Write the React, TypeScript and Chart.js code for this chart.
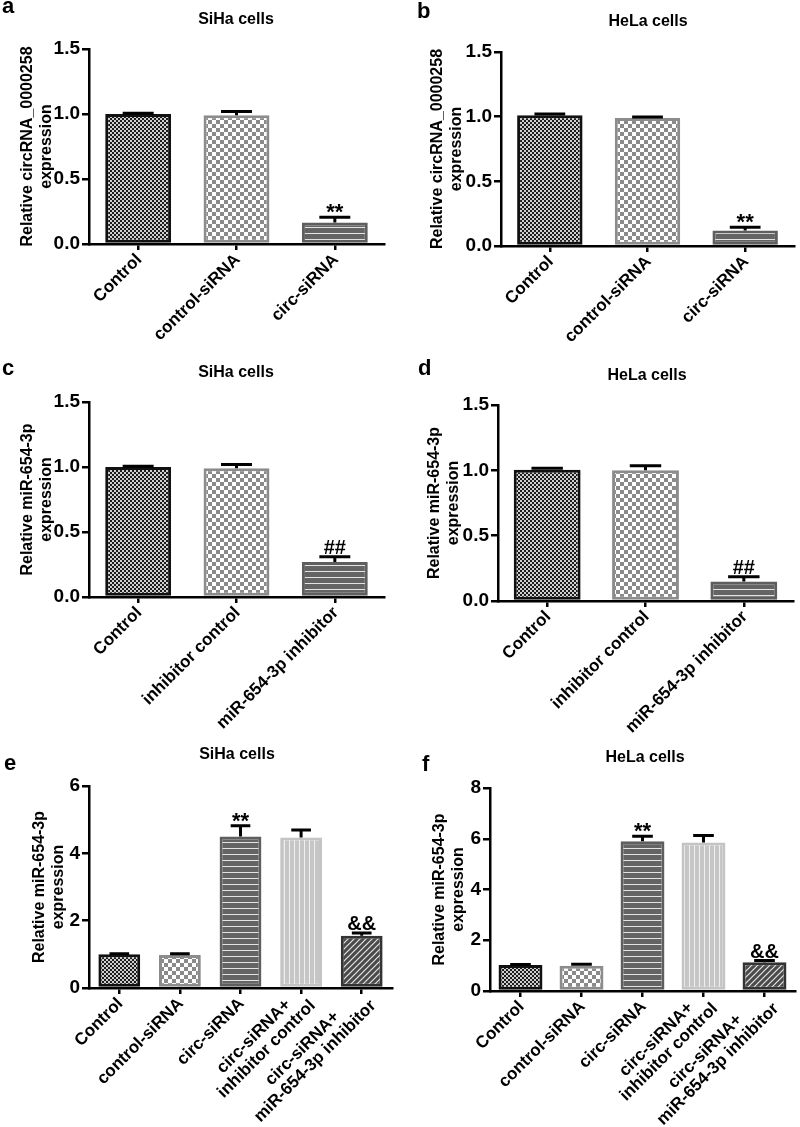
import React, { useEffect, useRef } from "react";
import { Chart, registerables } from "chart.js";
Chart.register(...registerables);

const FONT = '"Liberation Sans", Arial, Helvetica, sans-serif';

// ---------- data ----------
const labelsA = ["Control", "control-siRNA", "circ-siRNA"];
const valuesA = [1.0, 0.99, 0.165];
const errorsA = [0.006, 0.03, 0.04];
const marksA = ["", "", "**"];

const labelsB = ["Control", "control-siRNA", "circ-siRNA"];
const valuesB = [1.01, 0.99, 0.12];
const errorsB = [0.01, 0.008, 0.025];
const marksB = ["", "", "**"];

const labelsC = ["Control", "inhibitor control", "miR-654-3p inhibitor"];
const valuesC = [1.0, 0.99, 0.27];
const errorsC = [0.006, 0.03, 0.04];
const marksC = ["", "", "##"];

const labelsD = ["Control", "inhibitor control", "miR-654-3p inhibitor"];
const valuesD = [1.005, 1.0, 0.15];
const errorsD = [0.01, 0.035, 0.035];
const marksD = ["", "", "##"];

const labelsE = ["Control", "control-siRNA", "circ-siRNA", ["circ-siRNA+", "inhibitor control"], ["circ-siRNA+", "miR-654-3p inhibitor"]];
const valuesE = [1.0, 0.98, 4.5, 4.47, 1.55];
const errorsE = [0.02, 0.04, 0.32, 0.22, 0.08];
const marksE = ["", "", "**", "", "&&"];

const labelsF = ["Control", "control-siRNA", "circ-siRNA", ["circ-siRNA+", "inhibitor control"], ["circ-siRNA+", "miR-654-3p inhibitor"]];
const valuesF = [1.02, 1.0, 5.9, 5.85, 1.13];
const errorsF = [0.02, 0.05, 0.2, 0.28, 0.07];
const marksF = ["", "", "**", "", "&&"];

const yTitleCirc = ["Relative circRNA_0000258", "expression"];
const yTitleMir = ["Relative miR-654-3p", "expression"];

// ---------- styles ----------
const fills3 = ["fine", "coarse", "hstripe"];
const borders3 = ["#111111", "#8c8c8c", "#5e5e5e"];
const fills5 = ["fine", "coarse", "hstripe", "vstripe", "diag"];
const borders5 = ["#111111", "#8c8c8c", "#5e5e5e", "#c4c4c4", "#333333"];

function makePattern(kind: string): any {
  const c = document.createElement("canvas");
  const g = c.getContext("2d")!;
  if (kind === "fine") {
    c.width = 4; c.height = 4;
    g.fillStyle = "#cfcfcf"; g.fillRect(0, 0, 4, 4);
    g.fillStyle = "#1c1c1c"; g.fillRect(0, 0, 2, 2); g.fillRect(2, 2, 2, 2);
  } else if (kind === "coarse") {
    c.width = 8; c.height = 8;
    g.fillStyle = "#ffffff"; g.fillRect(0, 0, 8, 8);
    g.fillStyle = "#8a8a8a"; g.fillRect(0, 0, 4, 4); g.fillRect(4, 4, 4, 4);
  } else if (kind === "hstripe") {
    c.width = 6; c.height = 6;
    g.fillStyle = "#646464"; g.fillRect(0, 0, 6, 6);
    g.fillStyle = "#e4e4e4"; g.fillRect(0, 5, 6, 1);
  } else if (kind === "vstripe") {
    c.width = 5; c.height = 5;
    g.fillStyle = "#c6c6c6"; g.fillRect(0, 0, 5, 5);
    g.fillStyle = "#f0f0f0"; g.fillRect(4, 0, 1, 5);
  } else {
    c.width = 6; c.height = 6;
    g.fillStyle = "#4a4a4a"; g.fillRect(0, 0, 6, 6);
    g.strokeStyle = "#e6e6e6"; g.lineWidth = 1.2;
    g.beginPath();
    g.moveTo(0, 6); g.lineTo(6, 0);
    g.moveTo(-1, 1); g.lineTo(1, -1);
    g.moveTo(5, 7); g.lineTo(7, 5);
    g.stroke();
  }
  return g.createPattern(c, "repeat");
}

type Panel = {
  key: string;
  left: number; top: number; width: number; height: number;
  area: { l: number; t: number; r: number; b: number };
  labels: any[]; values: number[]; errors: number[]; marks: string[];
  fills: string[]; borders: string[];
  yMax: number; yStep: number; yDec: number;
  yTitle: string[]; yTitlePad: number;
  title: string; titleX: number; titleY: number;
  letter: string; letterX: number; letterY: number;
  barFrac: number;
};

const panels: Panel[] = [
  {
    key: "a", left: 0, top: 0, width: 400, height: 360,
    area: { l: 89, t: 49, r: 384, b: 244 },
    labels: labelsA, values: valuesA, errors: errorsA, marks: marksA,
    fills: fills3, borders: borders3, yMax: 1.5, yStep: 0.5, yDec: 1,
    yTitle: yTitleCirc, yTitlePad: 18,
    title: "SiHa cells", titleX: 236, titleY: 20, letter: "a", letterX: 2, letterY: 13, barFrac: 0.67,
  },
  {
    key: "b", left: 400, top: 0, width: 400, height: 360,
    area: { l: 501, t: 52, r: 794, b: 246 },
    labels: labelsB, values: valuesB, errors: errorsB, marks: marksB,
    fills: fills3, borders: borders3, yMax: 1.5, yStep: 0.5, yDec: 1,
    yTitle: yTitleCirc, yTitlePad: 28,
    title: "HeLa cells", titleX: 648, titleY: 22, letter: "b", letterX: 417, letterY: 18, barFrac: 0.67,
  },
  {
    key: "c", left: 0, top: 350, width: 400, height: 390,
    area: { l: 89, t: 402, r: 384, b: 597 },
    labels: labelsC, values: valuesC, errors: errorsC, marks: marksC,
    fills: fills3, borders: borders3, yMax: 1.5, yStep: 0.5, yDec: 1,
    yTitle: yTitleMir, yTitlePad: 18,
    title: "SiHa cells", titleX: 236, titleY: 373, letter: "c", letterX: 2, letterY: 375, barFrac: 0.67,
  },
  {
    key: "d", left: 400, top: 350, width: 400, height: 390,
    area: { l: 498, t: 405, r: 793, b: 601 },
    labels: labelsD, values: valuesD, errors: errorsD, marks: marksD,
    fills: fills3, borders: borders3, yMax: 1.5, yStep: 0.5, yDec: 1,
    yTitle: yTitleMir, yTitlePad: 25,
    title: "HeLa cells", titleX: 647, titleY: 376, letter: "d", letterX: 418, letterY: 375, barFrac: 0.68,
  },
  {
    key: "e", left: 0, top: 735, width: 400, height: 392,
    area: { l: 89, t: 786, r: 392, b: 988 },
    labels: labelsE, values: valuesE, errors: errorsE, marks: marksE,
    fills: fills5, borders: borders5, yMax: 6, yStep: 2, yDec: 0,
    yTitle: yTitleMir, yTitlePad: 30,
    title: "SiHa cells", titleX: 237, titleY: 755, letter: "e", letterX: 4, letterY: 770, barFrac: 0.69,
  },
  {
    key: "f", left: 400, top: 735, width: 400, height: 392,
    area: { l: 490, t: 788, r: 795, b: 991 },
    labels: labelsF, values: valuesF, errors: errorsF, marks: marksF,
    fills: fills5, borders: borders5, yMax: 8, yStep: 2, yDec: 0,
    yTitle: yTitleMir, yTitlePad: 30,
    title: "HeLa cells", titleX: 645, titleY: 758, letter: "f", letterX: 422, letterY: 771, barFrac: 0.72,
  },
];

function overlayPlugin(p: Panel) {
  return {
    id: "overlay_" + p.key,
    afterDatasetsDraw(chart: any) {
      const ctx = chart.ctx;
      const meta = chart.getDatasetMeta(0);
      const yScale = chart.scales.y;
      ctx.save();
      meta.data.forEach((bar: any, i: number) => {
        const x = bar.x;
        const yTop = bar.y;
        const yErr = yScale.getPixelForValue(p.values[i] + p.errors[i]);
        const half = (bar.width * 0.47) / 2;
        ctx.strokeStyle = "#000";
        ctx.lineWidth = 3;
        ctx.beginPath();
        ctx.moveTo(x, yTop);
        ctx.lineTo(x, yErr);
        ctx.moveTo(x - half, yErr);
        ctx.lineTo(x + half, yErr);
        ctx.stroke();
        const m = p.marks[i];
        if (m) {
          ctx.fillStyle = "#000";
          ctx.textAlign = "center";
          ctx.textBaseline = "alphabetic";
          if (m === "**") {
            ctx.font = `bold 22px ${FONT}`;
            ctx.fillText(m, x, yErr + 2);
          } else {
            ctx.font = `bold 20px ${FONT}`;
            ctx.fillText(m, x, yErr - 3);
          }
        }
      });
      ctx.restore();
    },
    afterDraw(chart: any) {
      const ctx = chart.ctx;
      const xs = chart.scales.x;
      const bottom = chart.chartArea.bottom;
      ctx.save();
      ctx.fillStyle = "#000";
      // category labels, rotated 45 degrees, multi-line blocks centred
      ctx.font = `bold 17px ${FONT}`;
      const lh = 18;
      p.labels.forEach((lab: any, i: number) => {
        const lines: string[] = Array.isArray(lab) ? lab : [lab];
        const shift = lines.length > 1 ? 6 : 0;
        const ax = xs.getPixelForTick(i) + 1 + shift * 0.707;
        const ay = bottom + 13 - shift * 0.707;
        const W = Math.max(...lines.map((l) => ctx.measureText(l).width));
        ctx.save();
        ctx.translate(ax, ay);
        ctx.rotate(-Math.PI / 4);
        ctx.textAlign = "center";
        ctx.textBaseline = "middle";
        lines.forEach((l, k) => ctx.fillText(l, -W / 2, (k - (lines.length - 1) / 2) * lh));
        ctx.restore();
      });
      // panel title and letter
      ctx.font = `bold 16px ${FONT}`;
      ctx.textAlign = "center";
      ctx.textBaseline = "middle";
      ctx.fillText(p.title, p.titleX - p.left, p.titleY - p.top);
      ctx.font = `bold 22px ${FONT}`;
      ctx.textAlign = "left";
      ctx.textBaseline = "alphabetic";
      ctx.fillText(p.letter, p.letterX - p.left, p.letterY - p.top);
      ctx.restore();
    },
  };
}

function PanelChart({ p }: { p: Panel }) {
  const ref = useRef<HTMLCanvasElement>(null);
  useEffect(() => {
    const canvas = ref.current!;
    const bg = p.fills.map(makePattern);
    const chart = new Chart(canvas, {
      type: "bar",
      data: {
        labels: p.labels,
        datasets: [
          {
            data: p.values,
            backgroundColor: bg,
            borderColor: p.borders,
            borderWidth: 3,
            borderSkipped: false,
            barPercentage: p.barFrac,
            categoryPercentage: 1,
          },
        ],
      },
      options: {
        responsive: false,
        animation: false,
        devicePixelRatio: 1,
        layout: {
          padding: { left: 0, top: p.area.t - p.top, right: p.left + p.width - p.area.r, bottom: 0 },
        },
        plugins: { legend: { display: false }, tooltip: { enabled: false }, title: { display: false } },
        scales: {
          x: {
            type: "category",
            offset: true,
            grid: {
              display: true, offset: false, drawOnChartArea: false, drawTicks: true,
              tickLength: 6, tickWidth: 2.5, lineWidth: 2.5, tickColor: "#000", color: "#000",
            },
            border: { display: true, color: "#000", width: 2.5 },
            ticks: { display: false, autoSkip: false, minRotation: 45, maxRotation: 45 },
            afterFit: (s: any) => { s.height = p.top + p.height - p.area.b; },
          } as any,
          y: {
            min: 0,
            max: p.yMax,
            ticks: {
              stepSize: p.yStep, color: "#000", padding: 2,
              font: { family: FONT, size: 19, weight: "bold" },
              callback: (v: any) => Number(v).toFixed(p.yDec),
            },
            grid: {
              display: true, drawOnChartArea: false, drawTicks: true,
              tickLength: 7, tickWidth: 2.5, lineWidth: 2.5, tickColor: "#000", color: "#000",
            },
            border: { display: true, color: "#000", width: 2.5 },
            title: {
              display: true, text: p.yTitle, color: "#000",
              font: { family: FONT, size: 16, weight: "bold", lineHeight: 1.2 },
              padding: { top: p.yTitlePad, bottom: 0 },
            },
            afterFit: (s: any) => { s.width = p.area.l - p.left; },
          } as any,
        },
      },
      plugins: [overlayPlugin(p)],
    } as any);
    return () => chart.destroy();
  }, []);
  return (
    <canvas
      ref={ref}
      width={p.width}
      height={p.height}
      style={{ position: "absolute", left: p.left, top: p.top, width: p.width, height: p.height }}
    />
  );
}

export default function App() {
  return (
    <div style={{ position: "absolute", left: 0, top: 0, width: 800, height: 1127, background: "#fff", overflow: "hidden" }}>
      {panels.map((p) => (
        <PanelChart key={p.key} p={p} />
      ))}
    </div>
  );
}
